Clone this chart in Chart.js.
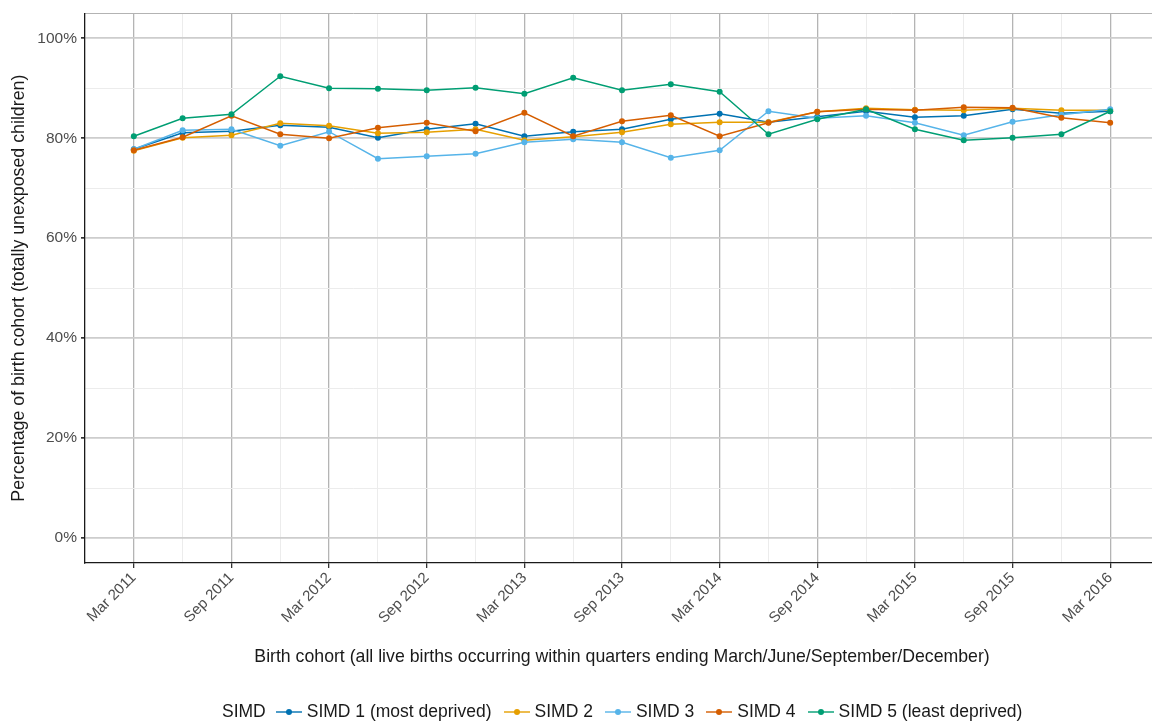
<!DOCTYPE html>
<html>
<head>
<meta charset="utf-8">
<script src="https://cdn.jsdelivr.net/npm/chart.js@4.4.1/dist/chart.umd.min.js"></script>
<style>
  html, body { margin: 0; padding: 0; background: #ffffff; overflow: hidden; width: 1152px; height: 725px; }
  #wrap { position: absolute; left: 0; top: 0; width: 1165px; height: 725px; }
  #legend { position: absolute; left: 222px; top: 701px; display: flex; align-items: center;
            font-family: "Liberation Sans", Arial, sans-serif; font-size: 17.5px; color: #1a1a1a; white-space: nowrap; }
  #legend .title { margin-right: 9px; font-size: 17.5px; }
  #legend .item { display: flex; align-items: center; margin-right: 11px; }
  #legend svg { margin-right: 4px; }
</style>
</head>
<body>
<div id="wrap"><canvas id="chart"></canvas></div>
<div id="legend"></div>
<script>
// ---- Data ----
const quarters = ["Mar 2011","Jun 2011","Sep 2011","Dec 2011","Mar 2012","Jun 2012","Sep 2012","Dec 2012",
                  "Mar 2013","Jun 2013","Sep 2013","Dec 2013","Mar 2014","Jun 2014","Sep 2014","Dec 2014",
                  "Mar 2015","Jun 2015","Sep 2015","Dec 2015","Mar 2016"];
const seriesNames = ["SIMD 1 (most deprived)","SIMD 2","SIMD 3","SIMD 4","SIMD 5 (least deprived)"];
const seriesColors = ["#0072B2","#E69F00","#56B4E9","#D55E00","#009E73"];
const simd1 = [77.8, 81.1, 81.4, 82.6, 82.2, 80.1, 81.8, 82.9, 80.4, 81.3, 81.8, 83.8, 84.9, 83.2, 84.3, 85.4, 84.2, 84.5, 85.8, 85.0, 85.4];
const simd2 = [77.5, 80.1, 80.6, 83.0, 82.5, 81.0, 81.2, 81.8, 79.6, 80.3, 81.2, 82.8, 83.2, 83.2, 85.3, 86.0, 85.7, 85.6, 86.0, 85.6, 85.6];
const simd3 = [77.8, 81.6, 81.8, 78.5, 81.3, 75.9, 76.4, 76.9, 79.2, 79.8, 79.2, 76.1, 77.6, 85.4, 84.0, 84.5, 83.1, 80.6, 83.3, 84.7, 85.8];
const simd4 = [77.6, 80.2, 84.5, 80.8, 80.0, 82.1, 83.1, 81.4, 85.1, 80.4, 83.4, 84.6, 80.4, 83.1, 85.3, 85.8, 85.6, 86.2, 86.1, 84.1, 83.1];
const simd5 = [80.4, 84.0, 84.8, 92.4, 90.0, 89.9, 89.6, 90.1, 88.9, 92.1, 89.6, 90.8, 89.3, 80.8, 83.8, 85.8, 81.8, 79.6, 80.1, 80.8, 85.4];
const yTickValues = [0, 10, 20, 30, 40, 50, 60, 70, 80, 90, 100];
const yLabelEvery = 20;

const allSeries = [simd1, simd2, simd3, simd4, simd5];

const datasets = allSeries.map((vals, i) => ({
  label: seriesNames[i],
  data: vals.map((v, j) => ({ x: j, y: v })),
  borderColor: seriesColors[i],
  backgroundColor: seriesColors[i],
  borderWidth: 1.4,
  pointRadius: 3,
  pointHoverRadius: 3,
  pointBorderWidth: 0,
  tension: 0,
  order: allSeries.length - i
}));

const FONT = '"Liberation Sans", Arial, sans-serif';

new Chart(document.getElementById('chart'), {
  type: 'line',
  data: { datasets },
  options: {
    responsive: true,
    maintainAspectRatio: false,
    animation: false,
    layout: { padding: { top: 12, left: 5, right: 6, bottom: 52 } },
    plugins: { legend: { display: false }, tooltip: { enabled: false } },
    scales: {
      x: {
        type: 'linear',
        min: -1, max: quarters.length,
        afterBuildTicks: s => { s.ticks = quarters.map((q, j) => ({ value: j })); },
        afterFit: s => { s.height = 110; },
        ticks: {
          autoSkip: false, minRotation: 45, maxRotation: 45,
          color: '#4D4D4D', font: { family: FONT, size: 15 }, padding: 1,
          callback: (v) => (v % 2 === 0 ? quarters[v] : '')
        },
        grid: {
          color: c => (c.tick && c.tick.value % 2 === 0) ? '#B4B4B4' : '#ECECEC',
          lineWidth: c => (c.tick && c.tick.value % 2 === 0) ? 1.3 : 1,
          tickColor: c => (c.tick && c.tick.value % 2 === 0) ? '#333333' : 'rgba(0,0,0,0)',
          tickLength: 5, drawTicks: true
        },
        border: { display: true, color: '#1a1a1a', width: 1.3 },
        title: {
          display: true,
          text: 'Birth cohort (all live births occurring within quarters ending March/June/September/December)',
          color: '#1a1a1a', font: { family: FONT, size: 17.7 }, padding: { top: 4, bottom: 5 }
        }
      },
      x2: {
        type: 'linear', position: 'top', display: true,
        afterFit: s => { s.height = 0; },
        ticks: { display: false }, grid: { display: false, drawTicks: false },
        border: { display: true, color: '#B3B3B3', width: 1 }
      },
      y: {
        type: 'linear',
        min: -5, max: 105,
        afterBuildTicks: s => { s.ticks = yTickValues.map(v => ({ value: v })); },
        afterFit: s => { s.width = 80; },
        ticks: {
          color: '#4D4D4D', font: { family: FONT, size: 15.5 }, padding: 4,
          callback: v => (v % yLabelEvery === 0 ? v + '%' : '')
        },
        grid: {
          color: c => (c.tick && c.tick.value % yLabelEvery === 0) ? '#CDCDCD' : '#ECECEC',
          lineWidth: c => (c.tick && c.tick.value % yLabelEvery === 0) ? 1.7 : 1,
          tickColor: c => (c.tick && c.tick.value % yLabelEvery === 0) ? '#333333' : 'rgba(0,0,0,0)',
          tickLength: 4, drawTicks: true
        },
        border: { display: true, color: '#1a1a1a', width: 1.3 },
        title: {
          display: true,
          text: 'Percentage of birth cohort (totally unexposed children)',
          color: '#1a1a1a', font: { family: FONT, size: 17.8 }, padding: { top: 3, bottom: 2 }
        }
      }
    }
  }
});

// ---- Legend (HTML, built from the same arrays) ----
const leg = document.getElementById('legend');
const t = document.createElement('span'); t.className = 'title'; t.textContent = 'SIMD'; leg.appendChild(t);
seriesNames.forEach((n, i) => {
  const it = document.createElement('span'); it.className = 'item';
  it.innerHTML = '<svg width="28" height="14"><line x1="1" y1="7" x2="27" y2="7" stroke="' + seriesColors[i] +
    '" stroke-width="1.4"/><circle cx="14" cy="7" r="3" fill="' + seriesColors[i] + '"/></svg>';
  const s = document.createElement('span'); s.textContent = n; it.appendChild(s);
  leg.appendChild(it);
});
</script>
</body>
</html>
